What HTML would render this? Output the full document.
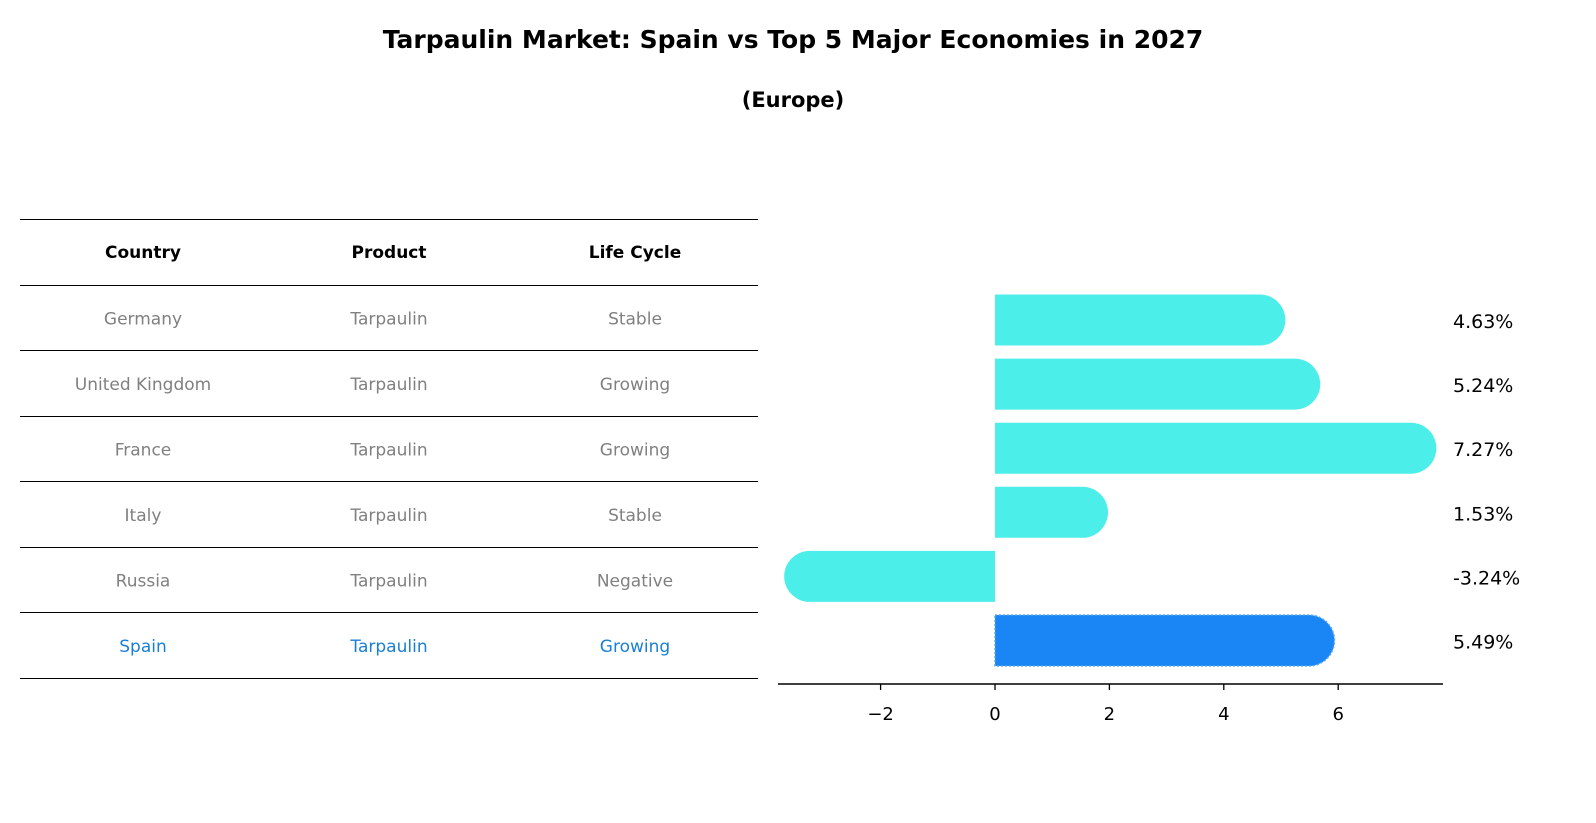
<!DOCTYPE html>
<html><head><meta charset="utf-8"><style>
html,body{margin:0;padding:0;background:#fff;width:1596px;height:823px;overflow:hidden;}
svg{display:block;font-family:"DejaVu Sans","Liberation Sans",sans-serif;}
</style></head><body>
<svg width="1596" height="823" viewBox="0 0 1596 823">
<text x="793" y="48" text-anchor="middle" font-size="25" font-weight="bold">Tarpaulin Market: Spain vs Top 5 Major Economies in 2027</text>
<text x="793" y="107" text-anchor="middle" font-size="21" font-weight="bold">(Europe)</text>
<g id="table"></g>
<g id="bars"></g>
<g id="axis"></g>
</svg>
<script>
const countries=["Germany","United Kingdom","France","Italy","Russia","Spain"];
const products=["Tarpaulin","Tarpaulin","Tarpaulin","Tarpaulin","Tarpaulin","Tarpaulin"];
const lifeCycles=["Stable","Growing","Growing","Stable","Negative","Growing"];
const growth=[4.63,5.24,7.27,1.53,-3.24,5.49];
const ticks=[-2,0,2,4,6];
const NS="http://www.w3.org/2000/svg";
function mk(t,a,p){const e=document.createElementNS(NS,t);for(const k in a)e.setAttribute(k,a[k]);p.appendChild(e);return e;}
const X=v=>995+v*57.2;
const rowY=i=>320+i*64.1;
const tbl=document.getElementById('table');
const lineYs=[219,285,350,416,481,547,612,678];
lineYs.forEach(y=>{const l=mk('line',{x1:20,x2:758,y1:y+0.5,y2:y+0.5,stroke:'#000','stroke-width':1},tbl);

});
const cx=[143,389,635];
["Country","Product","Life Cycle"].forEach((h,j)=>{const t=mk('text',{x:cx[j],y:258,'text-anchor':'middle','font-size':17,'font-weight':'bold'},tbl);t.textContent=h;

});
countries.forEach((c,i)=>{const col=i===5?'#1a7fd6':'#808080';
[c,products[i],lifeCycles[i]].forEach((v,j)=>{const t=mk('text',{x:cx[j],y:(lineYs[i+1]+lineYs[i+2])/2+7,'text-anchor':'middle','font-size':17,fill:col},tbl);t.textContent=v;

});});
const bars=document.getElementById('bars');const h=51,r=25.5;
growth.forEach((v,i)=>{const y0=rowY(i)-h/2,x0=X(0),x1=X(v),s=v>=0?1:-1;
const d=`M${x0},${y0} L${x1},${y0} A${r},${r} 0 0 ${s>0?1:0} ${x1},${y0+h} L${x0},${y0+h} Z`;
const p=mk('path',{d:d,fill:i===5?'#1a85f5':'#4beee9'},bars);
if(i===5){p.setAttribute('stroke','#5aa8f8');p.setAttribute('stroke-dasharray','2,2');p.setAttribute('stroke-width','1.5');}


const t=mk('text',{x:1453,y:rowY(i)+8,'font-size':19},bars);t.textContent=v.toFixed(2)+'%';

});
const ax=document.getElementById('axis');
const al=mk('line',{x1:778,x2:1443,y1:684,y2:684,stroke:'#000','stroke-width':1.5},ax);


ticks.forEach(v=>{mk('line',{x1:X(v),x2:X(v),y1:684,y2:690,stroke:'#000','stroke-width':1.3},ax);
const t=mk('text',{x:X(v),y:720,'text-anchor':'middle','font-size':18},ax);t.textContent=v<0?'\u2212'+Math.abs(v):v;

});
</script>
</body></html>
